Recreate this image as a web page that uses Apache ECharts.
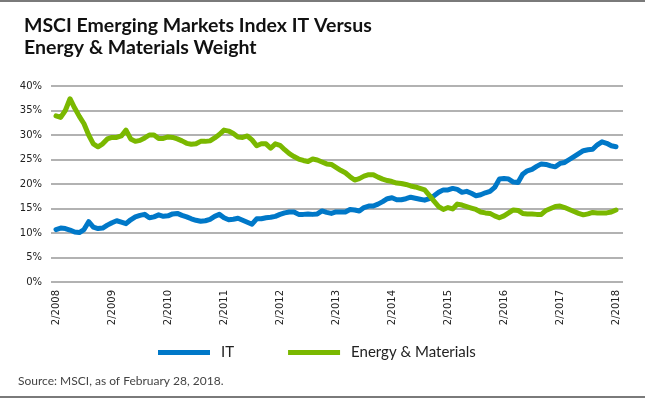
<!DOCTYPE html>
<html>
<head>
<meta charset="utf-8">
<script src="https://cdn.jsdelivr.net/npm/echarts@6/dist/echarts.min.js"></script>
<style>
html,body{margin:0;padding:0;background:#fff;}
#chart{width:645px;height:399px;}
</style>
</head>
<body>
<div id="chart"></div>
<script>
// ---- data (monthly, 2/2008 .. 2/2018) ----
const startYear = 2008, startMonth = 2, monthCount = 121;
const tickLabels = ['2/2008','2/2009','2/2010','2/2011','2/2012','2/2013','2/2014','2/2015','2/2016','2/2017','2/2018'];
const yTicks = [0, 5, 10, 15, 20, 25, 30, 35, 40];

const itValues = [
  10.7, 11.0, 10.9, 10.6, 10.2, 10.1, 10.7, 12.3, 11.2, 10.9,
  11.0, 11.6, 12.1, 12.5, 12.2, 11.9, 12.7, 13.3, 13.6, 13.8,
  13.1, 13.3, 13.7, 13.4, 13.5, 13.9, 14.0, 13.6, 13.3, 12.9,
  12.6, 12.4, 12.5, 12.8, 13.4, 13.8, 13.1, 12.7, 12.8, 13.0,
  12.6, 12.2, 11.8, 12.9, 12.9, 13.1, 13.2, 13.4, 13.8, 14.1,
  14.3, 14.3, 13.8, 13.8, 13.9, 13.8, 13.9, 14.5, 14.2, 14.0,
  14.3, 14.3, 14.3, 14.8, 14.7, 14.5, 15.2, 15.5, 15.5, 15.9,
  16.4, 17.0, 17.2, 16.8, 16.8, 17.0, 17.3, 17.1, 16.9, 16.7,
  17.0, 17.6, 18.3, 18.8, 18.8, 19.1, 18.9, 18.3, 18.5, 18.1,
  17.6, 17.8, 18.2, 18.5, 19.3, 21.0, 21.1, 21.0, 20.4, 20.3,
  22.0, 22.7, 23.0, 23.6, 24.1, 24.0, 23.7, 23.5, 24.2, 24.4,
  25.0, 25.6, 26.2, 26.8, 27.0, 27.1, 28.0, 28.6, 28.3, 27.8,
  27.6
];
const energyValues = [
  33.9, 33.6, 35.0, 37.4, 35.5, 33.8, 32.3, 30.0, 28.2, 27.6,
  28.2, 29.2, 29.5, 29.5, 29.8, 31.0, 29.2, 28.7, 28.9, 29.4,
  30.0, 30.0, 29.3, 29.3, 29.6, 29.5, 29.2, 28.8, 28.3, 28.1,
  28.2, 28.7, 28.7, 28.8, 29.4, 30.1, 31.0, 30.8, 30.3, 29.6,
  29.5, 29.8, 29.0, 27.8, 28.2, 28.2, 27.3, 28.2, 27.9, 27.0,
  26.2, 25.6, 25.1, 24.8, 24.6, 25.1, 24.9, 24.5, 24.1, 24.0,
  23.4, 22.8, 22.3, 21.5, 20.8, 21.1, 21.6, 21.9, 21.9, 21.4,
  21.0, 20.7, 20.5, 20.2, 20.1, 19.9, 19.6, 19.4, 19.1, 18.8,
  17.7, 16.5, 15.4, 14.8, 15.2, 14.9, 15.9, 15.7, 15.4, 15.1,
  14.8, 14.3, 14.1, 14.0, 13.5, 13.1, 13.5, 14.1, 14.7, 14.6,
  14.0, 13.9, 13.9, 13.8, 13.8, 14.6, 15.0, 15.4, 15.5, 15.2,
  14.8, 14.4, 14.0, 13.7, 13.9, 14.2, 14.1, 14.1, 14.1, 14.3,
  14.7
];

const seriesNames = ['IT', 'Energy & Materials'];
const seriesColors = ['#0078C8', '#7AB800'];

// month category labels
const months = [];
for (let k = 0; k < monthCount; k++) {
  const m = (startMonth - 1 + k) % 12 + 1;
  const y = startYear + Math.floor((startMonth - 1 + k) / 12);
  months.push(m + '/' + y);
}

const chart = echarts.init(document.getElementById('chart'), null, {renderer: 'canvas'});
const axisFont = 'DejaVu Sans';
const textFont = 'Lato';

chart.setOption({
  animation: false,
  backgroundColor: '#fff',
  title: {
    text: 'MSCI Emerging Markets Index IT Versus\nEnergy & Materials Weight',
    left: 19, top: 10,
    textStyle: {fontFamily: textFont, fontWeight: 'bold', fontSize: 19.5, lineHeight: 22, color: '#111'}
  },
  legend: {
    data: seriesNames,
    left: 153, top: 340,
    icon: 'rect', itemWidth: 52, itemHeight: 5, itemGap: 54,
    textStyle: {fontFamily: textFont, fontSize: 15, color: '#222', padding: [0, 0, 0, 6]}
  },
  grid: [
    {left: 51, right: 22, top: 86, bottom: 117},
    {left: 56, right: 29, top: 86, bottom: 117}
  ],
  xAxis: [
    {gridIndex: 0, type: 'value', min: 0, max: 1, show: false},
    {
      gridIndex: 1, type: 'category', data: months, boundaryGap: false,
      axisLine: {show: false}, axisTick: {show: false},
      axisLabel: {
        rotate: 90, margin: 8, fontFamily: axisFont, fontSize: 10, color: '#222',
        interval: function (idx, val) { return tickLabels.indexOf(val) >= 0; }
      }
    }
  ],
  yAxis: [
    {
      gridIndex: 0, type: 'value', min: yTicks[0], max: yTicks[yTicks.length - 1], interval: 5,
      axisLine: {show: false}, axisTick: {show: false},
      axisLabel: {formatter: '{value}%', margin: 9, fontFamily: axisFont, fontSize: 10, color: '#222'},
      splitLine: {show: true, lineStyle: {color: '#999', width: 1.5}}
    },
    {gridIndex: 1, type: 'value', min: 0, max: 40, show: false}
  ],
  series: [
    {
      name: seriesNames[0], type: 'line', xAxisIndex: 1, yAxisIndex: 1,
      data: itValues, showSymbol: false, symbol: 'none',
      lineStyle: {width: 5, color: seriesColors[0], cap: 'round', join: 'round'},
      itemStyle: {color: seriesColors[0]}
    },
    {
      name: seriesNames[1], type: 'line', xAxisIndex: 1, yAxisIndex: 1,
      data: energyValues, showSymbol: false, symbol: 'none',
      lineStyle: {width: 5, color: seriesColors[1], cap: 'round', join: 'round'},
      itemStyle: {color: seriesColors[1]}
    }
  ],
  graphic: [
    {type: 'line', shape: {x1: 0, y1: 1, x2: 645, y2: 1}, style: {stroke: '#7a7a7a', lineWidth: 2}},
    {type: 'line', shape: {x1: 0, y1: 397, x2: 645, y2: 397}, style: {stroke: '#7a7a7a', lineWidth: 2}},
    {type: 'text', left: 18, top: 375, style: {text: 'Source: MSCI, as of February 28, 2018.', font: '12px Lato', fill: '#444'}}
  ]
});
</script>
</body>
</html>
